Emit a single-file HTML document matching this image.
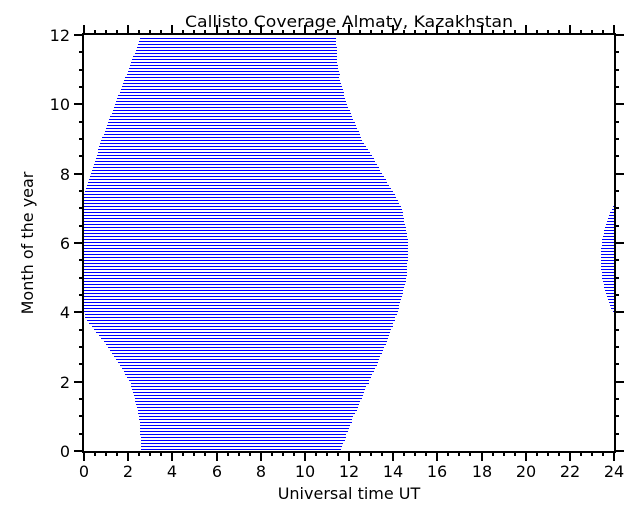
<!DOCTYPE html>
<html><head><style>
html,body{margin:0;padding:0;background:#fff;width:640px;height:512px;overflow:hidden}
svg text{font-family:"DejaVu Sans","Liberation Sans",sans-serif;fill:#000}
</style></head><body>
<svg id="s" width="640" height="512" xmlns="http://www.w3.org/2000/svg" shape-rendering="crispEdges"></svg>
<script>
const s=document.getElementById('s');
const X0=84,X1=614,Y0=451,Y1=35;
const xs=h=>X0+h*(X1-X0)/24, ys=m=>Y0-m*(Y0-Y1)/12;
function interp(pts,m){for(let i=0;i<pts.length-1;i++){if(m>=pts[i][0]&&m<=pts[i+1][0]){const t=(m-pts[i][0])/(pts[i+1][0]-pts[i][0]);return pts[i][1]+t*(pts[i+1][1]-pts[i][1]);}}return pts[pts.length-1][1];}
const L=[[0,2.6],[1,2.5],[2,2.1],[3,1.1],[3.8,0.1],[4,0],[7.4,0],[8,0.3],[9,0.8],[10,1.4],[11,2.0],[12,2.6]];
const R=[[0,11.6],[1,12.2],[2,12.9],[3,13.6],[4,14.2],[5,14.6],[6,14.7],[7,14.4],[7.5,14.0],[8,13.5],[9,12.6],[10,11.9],[11,11.5],[12,11.4]];
let h='';
for(let y=449;y>=37;y-=3){const m=(Y0-y)/((Y0-Y1)/12);
 const a=xs(interp(L,m)),b=xs(interp(R,m));
 h+=`<rect x="${a.toFixed(0)}" y="${y}" width="${(b-a).toFixed(0)}" height="1" fill="#0000ff"/>`;
 if(m>4&&m<7.1){const c=Math.PI*(m-4)/3.1;const w=0.6*Math.pow(Math.sin(c),0.8);
  const a2=xs(24-w);h+=`<rect x="${a2.toFixed(0)}" y="${y}" width="${(X1-a2).toFixed(0)}" height="1" fill="#0000ff"/>`;}
}
h+=`<rect x="${X0-1}" y="${Y1-1}" width="${X1-X0+2}" height="${Y0-Y1+2}" fill="none" stroke="#000" stroke-width="2"/>`;
for(let i=0;i<=48;i++){const x=Math.round(xs(i/2)),len=i%4==0?10:5;
 h+=`<rect x="${x-1}" y="${Y0}" width="2" height="${len}"/><rect x="${x-1}" y="${Y1-len}" width="2" height="${len}"/>`;
 if(i%4==0)h+=`<text x="${x}" y="477" font-size="16" text-anchor="middle">${i/2}</text>`;}
for(let i=0;i<=24;i++){const y=Math.round(ys(i/2)),len=i%4==0?10:5;
 h+=`<rect x="${X0-len}" y="${y-1}" width="${len}" height="2"/><rect x="${X1}" y="${y-1}" width="${len}" height="2"/>`;
 if(i%4==0)h+=`<text x="${X0-14}" y="${y+6}" font-size="16" text-anchor="end">${i/2}</text>`;}
h+=`<text x="349" y="27" font-size="16" text-anchor="middle" textLength="328" lengthAdjust="spacingAndGlyphs">Callisto Coverage Almaty, Kazakhstan</text>`;
h+=`<text x="349" y="499" font-size="16" text-anchor="middle">Universal time UT</text>`;
h+=`<text transform="translate(33,243) rotate(-90)" font-size="16" text-anchor="middle">Month of the year</text>`;
s.innerHTML=h;
</script>
</body></html>
